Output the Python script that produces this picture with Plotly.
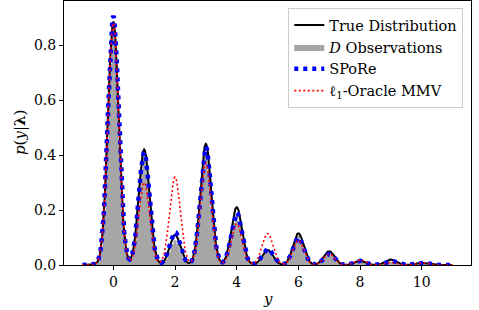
import numpy as np
import plotly.graph_objects as go

# Peak heights at each integer count y
counts = list(range(0, 11))
true_peaks = [0.885, 0.42, 0.11, 0.44, 0.21, 0.055, 0.115, 0.05, 0.015, 0.02, 0.008]
obs_peaks = [0.86, 0.39, 0.09, 0.40, 0.18, 0.05, 0.105, 0.04, 0.02, 0.012, 0.008]
spore_peaks = [0.905, 0.41, 0.12, 0.43, 0.19, 0.06, 0.10, 0.04, 0.015, 0.015, 0.008]
l1_peaks = [0.88, 0.30, 0.32, 0.37, 0.15, 0.115, 0.09, 0.04, 0.02, 0.01, 0.008]

x_ticks = [0, 2, 4, 6, 8, 10]
y_ticks = [0.0, 0.2, 0.4, 0.6, 0.8]

SIGMA = 0.175
xs = np.linspace(-1, 11, 721)
xb = np.round(np.arange(-1, 11.001, 0.1), 3)


def mix(peaks, grid):
    out = np.zeros_like(grid, dtype=float)
    for c, h in zip(counts, peaks):
        out += h * np.exp(-0.5 * ((grid - c) / SIGMA) ** 2)
    return out


serif = "DejaVu Serif"
fig = go.Figure()
fig.add_trace(go.Scatter(x=xb, y=mix(obs_peaks, xb), mode="lines", line=dict(color="#a6a6a6", width=0, shape="hvh"),
                         fill="tozeroy", fillcolor="#a6a6a6", name="<i>D</i> Observations", legendrank=2))
fig.add_trace(go.Scatter(x=xs, y=mix(true_peaks, xs), mode="lines", line=dict(color="black", width=2),
                         name="True Distribution", legendrank=1))
fig.add_trace(go.Scatter(x=xs, y=mix(spore_peaks, xs), mode="lines",
                         line=dict(color="#0000ff", width=4.5, dash="4px,5px"), name="SPoRe", legendrank=3))
fig.add_trace(go.Scatter(x=xs, y=mix(l1_peaks, xs), mode="lines",
                         line=dict(color="#ff0000", width=1.6, dash="2px,2.5px"),
                         name="ℓ<sub>1</sub>-Oracle MMV", legendrank=4))

fig.update_layout(
    width=479, height=310,
    margin=dict(l=64, r=8, t=1, b=45, autoexpand=False),
    paper_bgcolor="white", plot_bgcolor="white",
    font=dict(family=serif, size=14, color="black"),
    showlegend=True,
    legend=dict(x=0.981, y=0.973, xanchor="right", yanchor="top", bgcolor="rgba(255,255,255,0.8)",
                bordercolor="#cccccc", borderwidth=1, font=dict(family=serif, size=14.5),
                tracegroupgap=0, itemwidth=30),
    xaxis=dict(range=[-1.6, 11.6], tickvals=x_ticks, ticks="outside", ticklen=4, tickcolor="black",
               showline=True, linecolor="black", linewidth=1, mirror=True, showgrid=False, zeroline=False,
               automargin=False),
    yaxis=dict(range=[0, 0.96], tickvals=y_ticks, tickformat=".1f", ticks="outside", ticklen=4,
               tickcolor="black", showline=True, linecolor="black", linewidth=1, mirror=True,
               showgrid=False, zeroline=False, automargin=False),
    annotations=[
        dict(text="<i>y</i>", xref="paper", yref="paper", x=0.5, y=-0.128, xanchor="center", yanchor="middle",
             showarrow=False, font=dict(size=15)),
        dict(text="<i>p</i>(<i>y</i>|<b>λ</b>)", xref="paper", yref="paper", x=-0.108, y=0.5,
             xanchor="center", yanchor="middle", textangle=-90, showarrow=False, font=dict(size=15)),
    ],
)
fig.write_html("out.html", config={"displayModeBar": False},
               post_script="document.body.style.margin='0';document.body.style.overflow='hidden';")
